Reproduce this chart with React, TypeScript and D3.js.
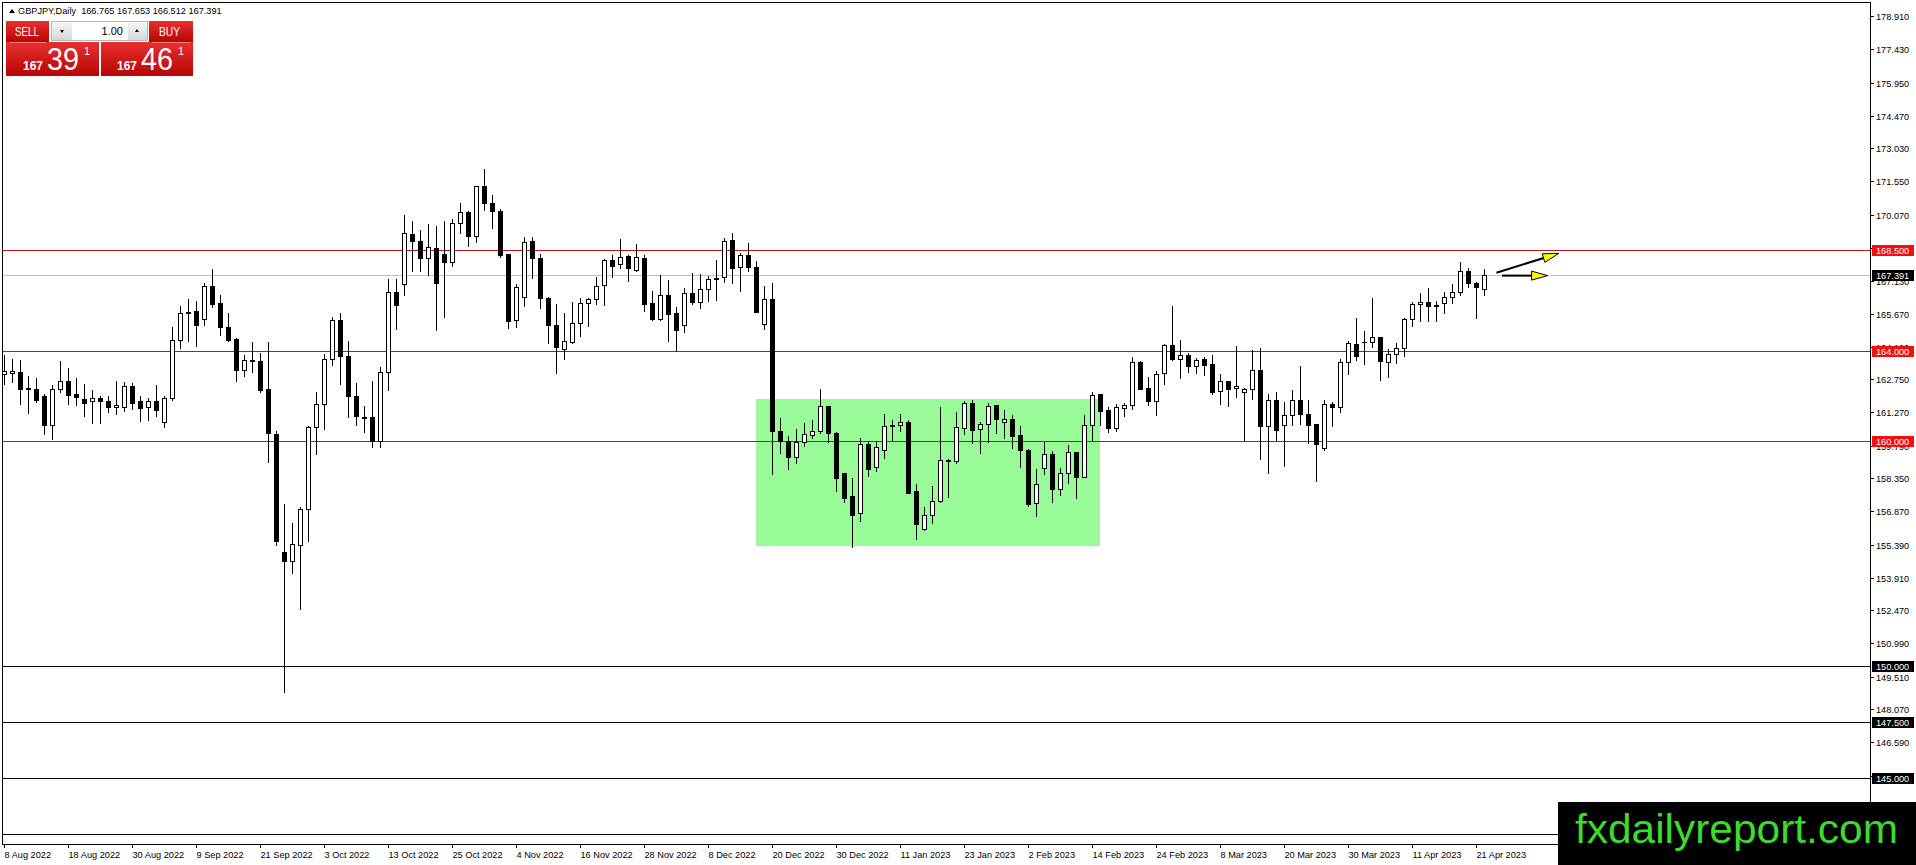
import React, { useEffect, useRef } from 'react';
import * as d3 from 'd3';

// GBPJPY daily candles, 8 Aug 2022 .. 24 Apr 2023
const opens = [
  162.97, 163.01, 163.09, 162.38, 162.31, 162.00, 160.69, 162.30, 162.66, 162.09,
  161.85, 161.76, 161.92, 161.77, 161.50, 161.50, 162.44, 161.77, 161.50, 161.80,
  160.84, 161.90, 164.48, 165.68, 165.78, 165.41, 166.89, 166.15, 165.06, 164.54,
  163.14, 163.60, 163.55, 162.31, 160.31, 155.08, 154.64, 155.35, 156.96, 160.61,
  161.63, 163.65, 165.38, 163.76, 161.98, 161.07, 161.06, 159.98, 163.06, 166.62,
  166.97, 169.20, 168.91, 168.13, 168.59, 168.31, 167.96, 169.69, 170.17, 169.13,
  171.34, 170.61, 170.22, 168.32, 165.40, 166.43, 168.88, 168.13, 166.37, 165.16,
  164.11, 164.42, 165.24, 166.13, 166.32, 166.93, 168.05, 167.86, 168.23, 167.62,
  168.13, 166.13, 165.44, 166.48, 165.68, 165.15, 166.57, 166.20, 166.75, 167.25,
  167.28, 168.94, 167.73, 168.26, 167.74, 165.19, 166.32, 160.44, 160.00, 159.27,
  159.97, 160.25, 160.46, 161.54, 160.36, 158.56, 157.54, 156.78, 159.87, 158.83,
  159.58, 160.70, 160.70, 160.83, 157.76, 156.07, 156.69, 157.31, 159.15, 159.12,
  160.56, 161.68, 160.52, 160.76, 161.59, 160.83, 160.96, 160.27, 159.58, 157.23,
  158.78, 159.42, 157.85, 158.56, 159.51, 158.41, 160.70, 162.08, 161.38, 160.59,
  161.45, 161.59, 163.50, 162.36, 161.79, 163.04, 164.26, 163.66, 163.81, 163.35,
  163.65, 163.41, 162.21, 162.66, 162.34, 162.17, 162.30, 163.14, 160.68, 161.82,
  160.70, 161.14, 161.81, 161.20, 160.74, 159.70, 161.63, 161.50, 163.53, 164.30,
  164.42, 164.39, 164.61, 163.52, 163.86, 164.14, 165.41, 166.08, 166.17, 166.04,
  166.13, 166.39, 166.62, 167.55, 167.03, 166.765,
];
const highs = [
  163.81, 163.65, 163.60, 162.90, 162.81, 162.09, 162.49, 163.57, 163.25, 162.81,
  162.54, 162.27, 161.98, 161.98, 162.66, 162.62, 162.58, 161.98, 161.90, 162.49,
  161.98, 165.08, 166.00, 166.30, 166.23, 167.04, 167.66, 166.51, 165.68, 164.60,
  163.81, 164.40, 163.92, 164.40, 160.44, 157.18, 156.34, 157.08, 160.65, 162.17,
  163.86, 165.54, 165.68, 164.44, 162.58, 161.57, 162.66, 163.30, 167.23, 167.21,
  170.06, 169.77, 169.37, 169.67, 169.58, 169.77, 169.90, 170.57, 170.25, 171.36,
  172.11, 170.95, 170.31, 168.34, 166.99, 169.09, 169.09, 168.34, 166.40, 166.10,
  165.68, 166.17, 166.35, 166.38, 167.30, 168.08, 168.28, 168.99, 168.26, 168.77,
  168.28, 166.66, 167.39, 167.16, 165.98, 166.79, 167.46, 167.43, 167.34, 168.05,
  169.02, 169.26, 168.35, 168.80, 167.99, 166.90, 167.02, 161.04, 160.22, 160.52,
  160.79, 160.92, 162.30, 161.56, 160.38, 158.58, 158.34, 160.15, 159.98, 159.98,
  161.20, 160.92, 161.20, 160.92, 158.07, 157.06, 157.98, 161.51, 159.20, 161.28,
  161.79, 161.81, 160.86, 161.69, 161.61, 161.38, 161.14, 160.67, 159.63, 158.74,
  159.94, 159.55, 158.78, 159.82, 159.53, 161.16, 162.20, 162.10, 161.50, 161.63,
  161.68, 163.75, 163.56, 162.85, 163.10, 164.30, 166.01, 164.49, 163.90, 163.68,
  163.75, 163.81, 162.98, 162.68, 164.23, 162.34, 164.05, 164.12, 162.08, 162.17,
  161.74, 162.27, 163.34, 161.82, 160.76, 161.82, 161.72, 163.65, 164.45, 165.47,
  164.91, 166.35, 164.64, 164.08, 164.35, 165.47, 166.20, 166.59, 166.79, 166.22,
  166.63, 166.99, 167.97, 167.68, 167.06, 167.653,
];
const lows = [
  162.54, 162.62, 161.66, 161.23, 161.74, 160.31, 160.07, 162.17, 161.66, 161.61,
  161.11, 160.79, 160.82, 161.27, 161.19, 161.34, 161.42, 160.87, 160.95, 161.11,
  160.63, 161.82, 164.16, 164.44, 164.24, 165.16, 165.95, 164.73, 164.44, 162.68,
  162.90, 163.06, 162.19, 159.07, 155.38, 148.83, 154.14, 152.52, 155.57, 159.40,
  160.55, 163.38, 162.54, 161.06, 160.72, 160.39, 159.71, 159.71, 162.27, 165.00,
  166.51, 167.58, 167.58, 167.39, 164.95, 165.53, 167.78, 169.26, 168.69, 168.85,
  170.29, 169.47, 168.21, 165.05, 165.08, 165.99, 167.27, 165.92, 164.35, 163.04,
  163.66, 164.35, 164.69, 165.13, 166.11, 166.05, 167.31, 167.71, 167.13, 167.58,
  165.80, 165.40, 165.40, 164.46, 164.00, 164.86, 166.11, 165.93, 166.25, 166.27,
  167.09, 167.05, 166.69, 167.58, 165.72, 164.98, 158.53, 159.45, 158.77, 159.04,
  159.79, 160.15, 160.34, 159.97, 157.79, 157.30, 155.30, 156.45, 158.46, 158.68,
  159.26, 160.00, 160.46, 157.68, 155.62, 156.05, 156.37, 157.29, 157.52, 159.01,
  160.33, 159.93, 159.48, 159.97, 160.37, 160.15, 159.70, 158.86, 157.12, 156.68,
  158.52, 157.30, 157.58, 158.12, 157.45, 158.39, 160.04, 160.71, 160.42, 160.46,
  161.13, 161.41, 162.30, 161.62, 161.17, 162.55, 163.62, 162.82, 163.06, 163.04,
  162.95, 162.09, 161.66, 161.57, 161.94, 160.00, 161.85, 159.18, 158.56, 160.04,
  158.90, 160.73, 160.77, 159.90, 158.23, 159.60, 160.68, 161.30, 162.97, 163.60,
  163.41, 164.17, 162.73, 162.86, 163.49, 163.77, 165.13, 165.36, 165.36, 165.36,
  165.68, 166.13, 166.48, 166.84, 165.49, 166.512,
];
const closes = [
  163.13, 163.11, 162.30, 162.31, 161.84, 160.69, 162.30, 162.65, 162.06, 161.96,
  161.71, 161.90, 161.76, 161.50, 161.60, 162.43, 161.71, 161.46, 161.80, 161.36,
  161.90, 164.48, 165.68, 165.76, 165.16, 166.89, 166.11, 165.08, 164.51, 163.17,
  163.59, 163.57, 162.27, 160.34, 155.56, 154.64, 155.40, 156.97, 160.61, 161.63,
  163.65, 165.37, 163.76, 161.98, 161.12, 161.04, 159.98, 163.06, 166.62, 166.07,
  169.25, 168.91, 168.13, 168.63, 167.05, 167.96, 169.69, 170.17, 169.13, 171.34,
  170.57, 170.22, 168.29, 165.35, 166.86, 168.85, 168.13, 166.35, 165.14, 164.20,
  164.44, 165.24, 166.13, 166.32, 166.88, 168.04, 167.80, 168.20, 167.71, 168.17,
  166.11, 165.44, 166.48, 165.67, 164.95, 166.57, 166.20, 166.75, 167.19, 167.19,
  168.89, 167.71, 168.26, 167.73, 165.76, 166.30, 160.46, 160.00, 159.27, 159.94,
  160.30, 160.46, 161.54, 160.34, 158.37, 157.48, 156.72, 159.85, 158.77, 159.72,
  160.65, 160.65, 160.83, 157.70, 156.32, 156.69, 157.31, 159.14, 159.12, 160.61,
  161.68, 160.50, 160.76, 161.54, 160.96, 160.96, 160.24, 159.58, 157.20, 158.07,
  159.42, 157.85, 158.56, 159.51, 158.41, 160.70, 162.06, 161.35, 160.59, 161.50,
  161.59, 163.50, 162.33, 161.79, 162.97, 164.26, 163.66, 163.81, 163.35, 163.59,
  163.40, 162.20, 162.66, 162.33, 162.43, 162.30, 163.14, 160.68, 161.81, 160.49,
  161.14, 161.81, 161.19, 160.73, 159.85, 161.63, 161.50, 163.53, 164.35, 163.80,
  164.39, 164.61, 163.54, 163.86, 164.14, 165.41, 166.08, 166.17, 165.99, 165.99,
  166.39, 166.63, 167.55, 167.02, 166.84, 167.391,
];

// one label every 8 bars, starting at the first bar
const dateLabels = [
  '8 Aug 2022', '18 Aug 2022', '30 Aug 2022', '9 Sep 2022', '21 Sep 2022', '3 Oct 2022',
  '13 Oct 2022', '25 Oct 2022', '4 Nov 2022', '16 Nov 2022', '28 Nov 2022', '8 Dec 2022',
  '20 Dec 2022', '30 Dec 2022', '11 Jan 2023', '23 Jan 2023', '2 Feb 2023', '14 Feb 2023',
  '24 Feb 2023', '8 Mar 2023', '20 Mar 2023', '30 Mar 2023', '11 Apr 2023', '21 Apr 2023',
];

const priceTicks = [
  178.91, 177.43, 175.95, 174.47, 173.03, 171.55, 170.07, 168.59, 167.13, 165.67,
  164.19, 162.75, 161.27, 159.79, 158.35, 156.87, 155.39, 153.91, 152.47, 150.99,
  149.51, 148.07, 146.59, 145.11, 143.63,
];

const redLevels = [168.5, 164, 160];
const blackLevels = [150, 147.5, 145, 142.5];
const bidPrice = 167.391;
const ohlcHeader = [166.765, 167.653, 166.512, 167.391];

// consolidation box: bar index range and price range
const zoneBars = [94, 137];
const zonePrices = [161.87, 155.34];

// arrows: [barFrom, priceFrom, barTo, priceTo]
const arrows = [
  [186.6, 167.49, 194.4, 168.35],
  [187.3, 167.36, 193.0, 167.36],
];

const FONT = "'Liberation Sans', Arial, sans-serif";

const App: React.FC = () => {
  const svgRef = useRef<SVGSVGElement>(null);

  useEffect(() => {
    const svg = d3.select(svgRef.current);
    svg.selectAll('*').remove();

    const W = 1916;
    const H = 865;
    const left = 2;
    const top = 2;
    const right = 1870;
    const bottom = 844;
    const barStep = 8;
    const n = opens.length;

    const x = d3.scaleLinear().domain([0, n - 1]).range([3.6, 3.6 + barStep * (n - 1)]);
    const y = d3.scaleLinear().domain([145, 168.5]).range([778, 250]);

    svg.attr('width', W).attr('height', H);
    svg.append('rect').attr('width', W).attr('height', H).attr('fill', '#fff');

    const defs = svg.append('defs');
    const clip = defs.append('clipPath').attr('id', 'plot');
    clip.append('rect').attr('x', left).attr('y', top).attr('width', right - left).attr('height', bottom - top);

    const redGrad = defs.append('linearGradient').attr('id', 'redg').attr('x1', 0).attr('y1', 0).attr('x2', 0).attr('y2', 1);
    redGrad.append('stop').attr('offset', '0%').attr('stop-color', '#e83030');
    redGrad.append('stop').attr('offset', '100%').attr('stop-color', '#b80404');
    const greyGrad = defs.append('linearGradient').attr('id', 'greyg').attr('x1', 0).attr('y1', 0).attr('x2', 0).attr('y2', 1);
    greyGrad.append('stop').attr('offset', '0%').attr('stop-color', '#f6f6f6');
    greyGrad.append('stop').attr('offset', '100%').attr('stop-color', '#d6d6d6');

    const plot = svg.append('g').attr('clip-path', 'url(#plot)');

    // green zone
    plot.append('rect')
      .attr('x', Math.round(x(zoneBars[0])))
      .attr('y', Math.round(y(zonePrices[0])))
      .attr('width', Math.round(x(zoneBars[1])) - Math.round(x(zoneBars[0])))
      .attr('height', Math.round(y(zonePrices[1])) - Math.round(y(zonePrices[0])))
      .attr('fill', '#98fb98');

    // horizontal levels
    const hline = (p: number, color: string) => {
      const yy = Math.round(y(p)) + 0.5;
      plot.append('line')
        .attr('x1', left).attr('x2', right)
        .attr('y1', yy).attr('y2', yy)
        .attr('stroke', color).attr('stroke-width', 1);
    };
    blackLevels.forEach(p => hline(p, '#000'));
    redLevels.forEach(p => hline(p, '#cc1111'));
    hline(bidPrice, '#c0c0c0');

    // candles
    const candles = plot.append('g');
    d3.range(n).forEach(i => {
      const cx = Math.round(x(i));
      const o = opens[i];
      const c = closes[i];
      candles.append('line')
        .attr('x1', cx + 0.5).attr('x2', cx + 0.5)
        .attr('y1', Math.round(y(highs[i]))).attr('y2', Math.round(y(lows[i])) + 1)
        .attr('stroke', '#000').attr('stroke-width', 1);
      const yTop = Math.round(y(Math.max(o, c)));
      const yBot = Math.round(y(Math.min(o, c)));
      const h = Math.max(yBot - yTop, 0);
      if (h === 0) {
        candles.append('line')
          .attr('x1', cx - 2).attr('x2', cx + 3)
          .attr('y1', yTop + 0.5).attr('y2', yTop + 0.5)
          .attr('stroke', '#000');
      } else {
        candles.append('rect')
          .attr('x', cx - 1.5).attr('y', yTop + 0.5)
          .attr('width', 4).attr('height', h)
          .attr('fill', c >= o ? '#fff' : '#000')
          .attr('stroke', '#000').attr('stroke-width', 1);
      }
    });

    // arrows
    arrows.forEach(([b1, p1, b2, p2]) => {
      const x1 = x(b1), y1 = y(p1), x2 = x(b2), y2 = y(p2);
      const len = Math.hypot(x2 - x1, y2 - y1);
      const ux = (x2 - x1) / len, uy = (y2 - y1) / len;
      const headLen = 16, headW = 4.5;
      const bx = x2 - ux * headLen, by = y2 - uy * headLen;
      plot.append('line')
        .attr('x1', x1).attr('y1', y1).attr('x2', bx + ux * 2).attr('y2', by + uy * 2)
        .attr('stroke', '#000').attr('stroke-width', 2);
      plot.append('path')
        .attr('d', `M${x2},${y2}L${bx - uy * headW},${by + ux * headW}L${bx + uy * headW},${by - ux * headW}Z`)
        .attr('fill', '#ffff00').attr('stroke', '#000').attr('stroke-width', 1);
    });

    // frame
    svg.append('rect')
      .attr('x', left + 0.5).attr('y', top + 0.5)
      .attr('width', right - left).attr('height', bottom - top)
      .attr('fill', 'none').attr('stroke', '#000').attr('stroke-width', 1);

    // price axis ticks and labels
    const axis = svg.append('g').style('font-family', FONT).style('font-size', '9.2px');
    priceTicks.forEach(p => {
      const yy = Math.round(y(p)) + 0.5;
      axis.append('line').attr('x1', right).attr('x2', right + 4).attr('y1', yy).attr('y2', yy).attr('stroke', '#000');
      axis.append('text').attr('x', right + 6).attr('y', yy).attr('dy', '0.35em').attr('fill', '#000').text(p.toFixed(3));
    });

    // level price tags
    const tag = (p: number, bg: string) => {
      const yy = Math.round(y(p)) + 0.5;
      axis.append('rect').attr('x', right + 2).attr('y', yy - 5.5).attr('width', 42).attr('height', 11).attr('fill', bg);
      axis.append('text').attr('x', right + 6).attr('y', yy).attr('dy', '0.35em').attr('fill', '#fff').text(p.toFixed(3));
    };
    blackLevels.forEach(p => tag(p, '#000'));
    redLevels.forEach(p => tag(p, '#f01010'));
    tag(bidPrice, '#000');

    // date axis
    const dates = svg.append('g').style('font-family', FONT).style('font-size', '9.2px');
    dateLabels.forEach((label, k) => {
      const xx = Math.round(x(k * barStep)) + 0.5;
      dates.append('line').attr('x1', xx).attr('x2', xx).attr('y1', bottom).attr('y2', bottom + 4).attr('stroke', '#000');
      dates.append('text').attr('x', xx).attr('y', bottom + 14).attr('fill', '#000').text(label);
    });

    // header
    svg.append('path').attr('d', 'M9,13L12,9L15,13Z').attr('fill', '#000');
    svg.append('text')
      .attr('x', 18).attr('y', 14)
      .style('font-family', FONT).style('font-size', '9.2px').style('white-space', 'pre')
      .text(`GBPJPY,Daily  ${ohlcHeader.map(v => v.toFixed(3)).join(' ')}`);

    // one-click trading panel
    const panel = svg.append('g').style('font-family', FONT);
    panel.append('rect').attr('x', 6).attr('y', 21).attr('width', 43).attr('height', 21).attr('fill', 'url(#redg)');
    panel.append('rect').attr('x', 149).attr('y', 21).attr('width', 44).attr('height', 21).attr('fill', 'url(#redg)');
    panel.append('rect').attr('x', 6).attr('y', 42).attr('width', 93).attr('height', 34).attr('fill', 'url(#redg)');
    panel.append('rect').attr('x', 101).attr('y', 42).attr('width', 92).attr('height', 34).attr('fill', 'url(#redg)');
    panel.append('line').attr('x1', 10).attr('x2', 46).attr('y1', 42.5).attr('y2', 42.5).attr('stroke', '#f08080');
    panel.append('line').attr('x1', 152).attr('x2', 190).attr('y1', 42.5).attr('y2', 42.5).attr('stroke', '#f08080');
    panel.append('text').attr('x', 15).attr('y', 36).attr('fill', '#fff').style('font-size', '12px')
      .attr('textLength', 24).attr('lengthAdjust', 'spacingAndGlyphs').text('SELL');
    panel.append('text').attr('x', 159).attr('y', 36).attr('fill', '#fff').style('font-size', '12px')
      .attr('textLength', 21).attr('lengthAdjust', 'spacingAndGlyphs').text('BUY');

    // lot size control
    panel.append('rect').attr('x', 51.5).attr('y', 21.5).attr('width', 96).attr('height', 19).attr('fill', '#fff').attr('stroke', '#b8b8b8');
    panel.append('rect').attr('x', 52).attr('y', 22).attr('width', 20).attr('height', 18).attr('fill', 'url(#greyg)');
    panel.append('rect').attr('x', 128).attr('y', 22).attr('width', 19).attr('height', 18).attr('fill', 'url(#greyg)');
    panel.append('path').attr('d', 'M60,30L64,30L62,33Z').attr('fill', '#000');
    panel.append('path').attr('d', 'M135,32L139,32L137,29Z').attr('fill', '#000');
    panel.append('text').attr('x', 123).attr('y', 35).attr('text-anchor', 'end').attr('fill', '#000')
      .style('font-size', '11px').text('1.00');

    const price = (x0: number, small: string, big: string, pip: string) => {
      panel.append('text').attr('x', x0).attr('y', 70).attr('fill', '#fff').style('font-size', '12px')
        .style('font-weight', 'bold').text(small);
      panel.append('text').attr('x', x0 + 24).attr('y', 70).attr('fill', '#fff').style('font-size', '32px')
        .attr('textLength', 32).attr('lengthAdjust', 'spacingAndGlyphs').text(big);
      panel.append('text').attr('x', x0 + 61).attr('y', 55).attr('fill', '#fff').style('font-size', '11px').text(pip);
    };
    const bidStr = bidPrice.toFixed(3);
    const askStr = (bidPrice + 0.07).toFixed(3);
    price(23, bidStr.slice(0, 3), bidStr.slice(4, 6), bidStr.slice(6));
    price(117, askStr.slice(0, 3), askStr.slice(4, 6), askStr.slice(6));

    // watermark
    svg.append('rect').attr('x', 1558).attr('y', 802).attr('width', W - 1558).attr('height', H - 802).attr('fill', '#000');
    svg.append('text')
      .attr('x', 1575).attr('y', 843)
      .attr('textLength', 323).attr('lengthAdjust', 'spacingAndGlyphs')
      .style('font-family', FONT).style('font-size', '40px')
      .attr('fill', '#3bdc2c')
      .text('fxdailyreport.com');
  }, []);

  return (
    <svg
      ref={svgRef}
      style={{ position: 'absolute', left: 0, top: 0, display: 'block' }}
    />
  );
};

export default App;
